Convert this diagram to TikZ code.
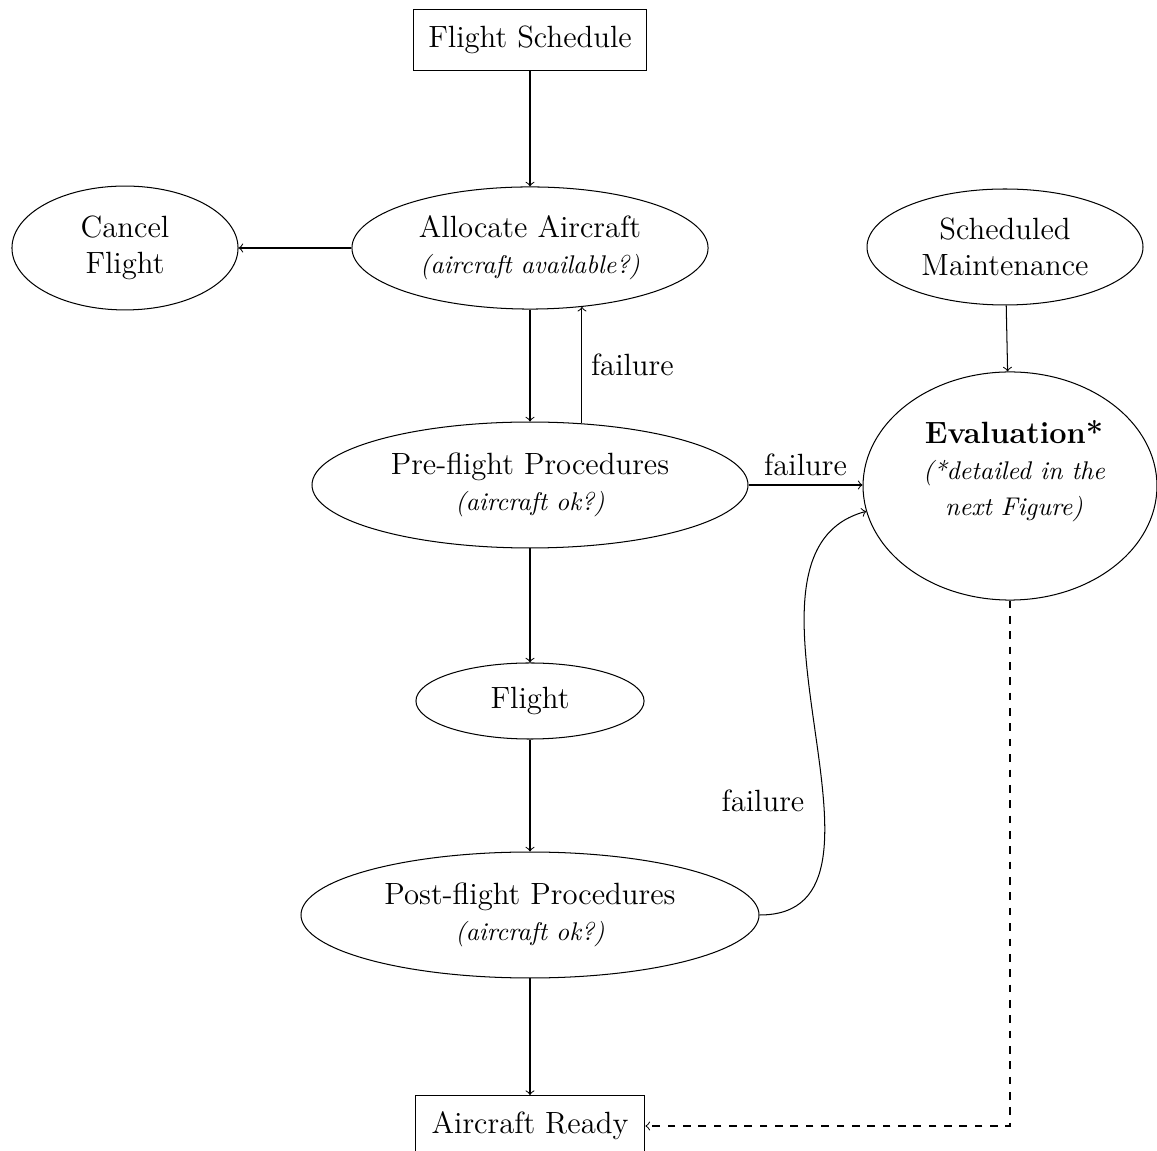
\documentclass[tikz,border=0pt]{standalone}
\usetikzlibrary{shapes.geometric}
\begin{document}
\begin{tikzpicture}[x=0.3906pt,y=-0.3906pt,
  every node/.style={font=\large},
  ell/.style={draw,ellipse,inner sep=0pt,align=center},
  stepbox/.style={draw,rectangle,inner sep=0pt,align=center,minimum height=23.8pt},
  it/.style={font=\normalsize\itshape}]
\useasboundingbox (0,0) rectangle (1157,1151);

\node[stepbox,minimum width=91pt] (fs) at (530,40) {Flight Schedule};
\node[ell,minimum width=139.1pt,minimum height=47.7pt] (alloc) at (530,248)
  {Allocate Aircraft\\{\normalsize\itshape (aircraft available?)}};
\node[ell,minimum width=88.3pt,minimum height=48.4pt] (cancel) at (125,248)
  {Cancel\\Flight};
\node[ell,minimum width=107.8pt,minimum height=45.3pt] (sched) at (1005,247)
  {Scheduled\\Maintenance};
\node[ell,minimum width=114.8pt,minimum height=89.1pt] (eval) at (1010,486) {};
\node[align=center,inner sep=0pt] (evaltxt) at (1014,471)
  {\textbf{Evaluation*}\\{\normalsize\itshape (*detailed in the}\\{\normalsize\itshape next Figure)}};
\node[ell,minimum width=170.3pt,minimum height=49.2pt] (pre) at (530,485)
  {Pre-flight Procedures\\{\normalsize\itshape (aircraft ok?)}};
\node[ell,minimum width=89.1pt,minimum height=29.7pt] (flight) at (530,701) {Flight};
\node[ell,minimum width=178.9pt,minimum height=49.2pt] (post) at (530,915)
  {Post-flight Procedures\\{\normalsize\itshape (aircraft ok?)}};
\node[stepbox,minimum width=89.8pt] (ready) at (530,1126) {Aircraft Ready};

\draw[->] (fs) -- (alloc);
\draw[->] (alloc.west) -- (cancel.east);
\draw[->] (alloc) -- (pre);
\draw[->] ([xshift=20.3pt,yshift=-0.75pt]pre.north) -- node[right]{failure}
  ([xshift=20.3pt,yshift=1.05pt]alloc.south);
\draw[->] (sched) -- (eval);
\draw[->] (pre.east) -- node[above]{failure} (pre.east -| eval.west);
\draw[->] (pre) -- (flight);
\draw[->] (flight) -- (post);
\draw[->] (post) -- (ready);
\draw[->] (post.east) to[out=0,in=195] node[pos=0.37,left=4pt]{failure} (eval.190);
\draw[->,dashed] (eval.south) |- (ready.east);
\end{tikzpicture}
\end{document}
